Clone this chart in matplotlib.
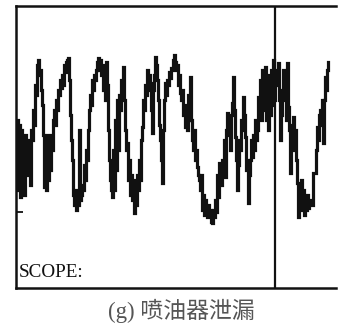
import matplotlib
matplotlib.use("Agg")
import matplotlib.pyplot as plt

# Scope trace: time position (px-like units) and screen level (px from top)
t = [17,18,19,20,21,22,23,24,25,26,27,28,29,30,31,32,33,34,35,36,37,38,39,40,41,42,43,44,45,46,47,48,49,50,
     51,52,53,54,55,56,57,58,59,60,61,62,63,64,65,66,67,68,69,70,71,72,73,74,75,76,77,78,79,80,81,82,83,84,85,
     86,87,88,89,90,91,92,93,94,95,96,97,98,99,100,101,102,103,104,105,106,107,108,109,110,111,112,113,114,115,
     116,117,118,119,120,121,122,123,124,125,126,127,128,129,130,131,132,133,134,135,136,137,138,139,140,141,
     142,143,144,145,146,147,148,149,150,151,152,153,154,155,156,157,158,159,160,161,162,163,164,165,166,167,
     168,169,170,171,172,173,174,175,176,177,178,179,180,181,182,183,184,185,186,187,188,189,190,191,192,193,
     194,195,196,197,198,199,200,201,202,203,204,205,206,207,208,209,210,211,212,213,214,215,216,217,218,219,
     220,221,222,223,224,225,226,227,228,229,230,231,232,233,234,235,236,237,238,239,240,241,242,243,244,245,
     246,247,248,249,250,251,252,253,254,255,256,257,258,259,260,261,262,263,264,265,266,267,268,269,270,271,
     272,273,274,275,276,277,278,279,280,281,282,283,284,285,286,287,288,289,290,291,292,293,294,295,296,297,
     298,299,300,301,302,303,304,305,306,307,308,309,310,311,315,316,317,318,319,320,321,322,323,324,325,326,
     327,328]
level = [120,190,125,197,130,185,140,195,135,170,140,175,150,185,130,140,110,125,85,95,65,60,75,70,90,105,135,
         187,150,190,135,180,140,170,135,150,120,110,125,100,110,90,95,80,88,75,85,65,72,62,60,58,80,115,140,160,
         195,205,190,210,198,205,130,200,195,185,190,165,180,150,160,130,110,95,105,80,90,75,80,70,62,58,70,60,
         75,65,90,70,100,62,85,130,160,180,190,197,150,190,120,170,100,150,95,110,80,90,67,100,130,150,143,180,
         160,195,175,200,180,213,190,205,175,190,160,180,140,127,100,110,85,95,70,90,75,83,110,133,90,75,57,65,
         80,100,125,140,160,183,130,100,83,95,80,85,72,78,68,70,60,55,62,70,65,85,75,93,100,90,115,105,127,110,
         130,95,120,77,120,140,150,130,160,150,167,175,180,190,175,210,195,215,200,210,217,205,215,210,222,223,
         210,217,200,212,175,197,163,163,185,160,175,140,177,130,113,135,120,150,115,103,77,110,137,160,190,165,
         140,150,120,130,97,115,137,170,160,203,175,160,140,157,135,150,120,140,130,97,115,80,120,70,110,85,67,
         120,75,130,80,115,70,105,60,100,70,85,75,63,100,140,115,90,70,100,80,120,63,107,130,173,140,125,117,150,
         130,160,183,217,195,210,180,200,190,215,200,210,195,208,200,203,205,173,150,127,140,115,110,125,100,143,
         100,77,90,70,62]

cursor_t = 275
ref_level = 212
scope_label = "SCOPE:"
caption = "(g) 喷油器泄漏"

fig = plt.figure(figsize=(3.53, 3.28), dpi=100)
ax = fig.add_axes([16/353, 40/328, 320/353, 282/328])
ax.plot(t, level, color="#111111", lw=2.3, drawstyle="steps-mid", solid_joinstyle="miter")
ax.axvline(cursor_t, color="#111111", lw=1.6)
ax.set_xlim(16, 336)
ax.set_ylim(288, 6)
for s in ["left", "top", "bottom"]:
    ax.spines[s].set_linewidth(1.8)
    ax.spines[s].set_color("#111111")
ax.spines["right"].set_visible(False)
ax.set_xticks([])
ax.set_yticks([ref_level])
ax.set_yticklabels([])
ax.tick_params(axis="y", direction="in", length=5, width=1.3, color="#111111")
ax.text(19, 277, scope_label, fontsize=13.8, family="Liberation Serif", color="#111111", va="baseline")
fig.text(181/353, 1 - 311/328, caption, fontsize=16.5, family=["Liberation Serif", "Noto Sans CJK SC"],
         color="#555555", ha="center", va="center", fontweight="light")
fig.savefig("out.png", dpi=100)
